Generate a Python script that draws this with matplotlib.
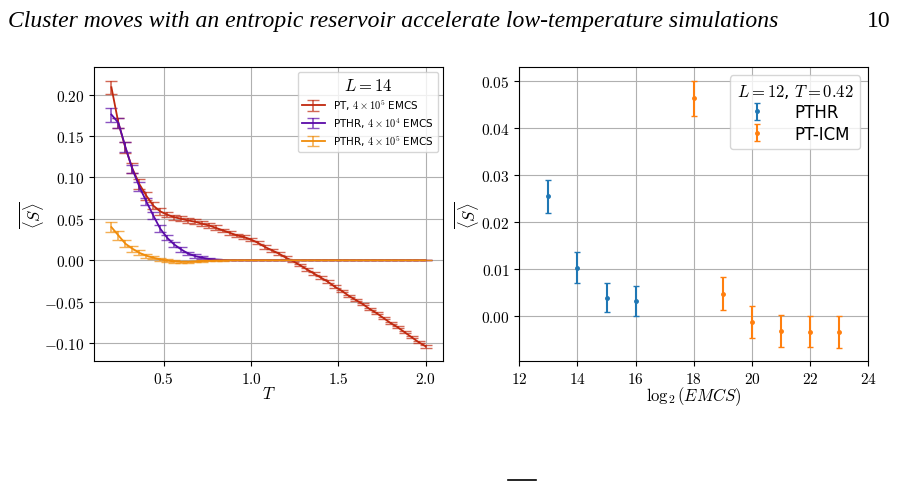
import matplotlib
matplotlib.use("Agg")
import matplotlib.pyplot as plt
from matplotlib.lines import Line2D
from matplotlib.ticker import FuncFormatter, MultipleLocator

plt.rcParams['mathtext.fontset'] = 'cm'
plt.rcParams['font.family'] = 'DejaVu Sans'

# left panel: L = 14
T = [0.20, 0.24, 0.28, 0.32, 0.36, 0.40, 0.44, 0.48, 0.52, 0.56,
     0.60, 0.64, 0.68, 0.72, 0.76, 0.80, 0.84, 0.88, 0.92, 0.96,
     1.00, 1.04, 1.08, 1.12, 1.16, 1.20, 1.24, 1.28, 1.32, 1.36,
     1.40, 1.44, 1.48, 1.52, 1.56, 1.60, 1.64, 1.68, 1.72, 1.76,
     1.80, 1.84, 1.88, 1.92, 1.96, 2.00]

pt_S = [0.209, 0.166, 0.136, 0.111, 0.092, 0.078, 0.066, 0.059, 0.055, 0.052,
        0.050, 0.048, 0.0465, 0.044, 0.042, 0.039, 0.036, 0.033, 0.030, 0.028,
        0.025, 0.021, 0.016, 0.012, 0.008, 0.003, -0.001, -0.006, -0.011, -0.016,
        -0.021, -0.026, -0.032, -0.037, -0.043, -0.048, -0.053, -0.059, -0.064, -0.070,
        -0.076, -0.081, -0.087, -0.093, -0.099, -0.104]
pt_err = [0.008, 0.006, 0.007, 0.006, 0.006, 0.005, 0.004, 0.004, 0.003, 0.003,
          0.003, 0.003, 0.003, 0.003, 0.003, 0.003, 0.002, 0.002, 0.002, 0.002,
          0.002, 0.002, 0.002, 0.002, 0.002, 0.002, 0.0015, 0.0015, 0.0015, 0.0015,
          0.0015, 0.0015, 0.0015, 0.0015, 0.0015, 0.0015, 0.0015, 0.0015, 0.0015, 0.0015,
          0.0015, 0.0015, 0.0015, 0.0015, 0.0015, 0.0015]

hr4_S = [0.176, 0.166, 0.137, 0.110, 0.089, 0.071, 0.054, 0.038, 0.027, 0.019,
         0.013, 0.008, 0.005, 0.003, 0.0015, 0.0008, 0.0003, 0.0001, 0.0, 0.0,
         0.0, 0.0, 0.0, 0.0, 0.0, 0.0, 0.0, 0.0, 0.0, 0.0,
         0.0, 0.0, 0.0, 0.0, 0.0, 0.0, 0.0, 0.0, 0.0, 0.0,
         0.0, 0.0, 0.0, 0.0, 0.0, 0.0]
hr4_err = [0.0085, 0.006, 0.006, 0.005, 0.005, 0.004, 0.004, 0.004, 0.003, 0.003,
           0.0025, 0.002, 0.002, 0.0015, 0.001, 0.0008, 0.0004, 0.0003, 0.0002, 0.0002,
           0.0002, 0.0002, 0.0002, 0.0002, 0.0002, 0.0002, 0.0002, 0.0002, 0.0002, 0.0002,
           0.0002, 0.0002, 0.0002, 0.0002, 0.0002, 0.0002, 0.0002, 0.0002, 0.0002, 0.0002,
           0.0002, 0.0002, 0.0002, 0.0002, 0.0002, 0.0002]

hr5_S = [0.040, 0.030, 0.020, 0.014, 0.009, 0.0055, 0.003, 0.001, -0.0005, -0.0015,
         -0.002, -0.002, -0.0015, -0.001, -0.0006, -0.0003, -0.0001, 0.0, 0.0, 0.0,
         0.0, 0.0, 0.0, 0.0, 0.0, 0.0, 0.0, 0.0, 0.0, 0.0,
         0.0, 0.0, 0.0, 0.0, 0.0, 0.0, 0.0, 0.0, 0.0, 0.0,
         0.0, 0.0, 0.0, 0.0, 0.0, 0.0]
hr5_err = [0.0065, 0.0055, 0.004, 0.0035, 0.003, 0.0025, 0.002, 0.0018, 0.0015, 0.0013,
           0.0012, 0.001, 0.0009, 0.0007, 0.0005, 0.0004, 0.0003, 0.0002, 0.0002, 0.0002,
           0.0002, 0.0002, 0.0002, 0.0002, 0.0002, 0.0002, 0.0002, 0.0002, 0.0002, 0.0002,
           0.0002, 0.0002, 0.0002, 0.0002, 0.0002, 0.0002, 0.0002, 0.0002, 0.0002, 0.0002,
           0.0002, 0.0002, 0.0002, 0.0002, 0.0002, 0.0002]

# right panel: L = 12, T = 0.42
log_emcs_hr = [13, 14, 15, 16]
S_hr = [0.0255, 0.0103, 0.0039, 0.0032]
err_hr = [0.0035, 0.0033, 0.0031, 0.0032]

log_emcs_icm = [18, 19, 20, 21, 22, 23]
S_icm = [0.0464, 0.0048, -0.0013, -0.0031, -0.0033, -0.0034]
err_icm = [0.0037, 0.0035, 0.0034, 0.0034, 0.0033, 0.0034]

fig = plt.figure(figsize=(9, 4.85), dpi=100)
ax1 = fig.add_axes([0.1044, 0.2536, 0.3878, 0.6062])
ax2 = fig.add_axes([0.577, 0.2536, 0.3878, 0.6062])

series = [
    (pt_S, pt_err, '#c0280e', r'PT, $4\times10^5$ EMCS'),
    (hr4_S, hr4_err, '#5a0aa8', r'PTHR, $4\times10^4$ EMCS'),
    (hr5_S, hr5_err, '#f08c0a', r'PTHR, $4\times10^5$ EMCS'),
]
for s, e, c, lab in series:
    cont = ax1.errorbar(T, s, yerr=e, color=c, lw=1.3, elinewidth=1.2,
                        capsize=4, label=lab)
    for cl in cont[1]:
        cl.set_alpha(0.7)
    for bl in cont[2]:
        bl.set_alpha(0.7)

ax1.set_xlim(0.1, 2.1)
ax1.set_ylim(-0.1218, 0.2335)
ax1.xaxis.set_major_locator(MultipleLocator(0.5))
ax1.yaxis.set_major_locator(MultipleLocator(0.05))
ax1.xaxis.set_major_formatter(FuncFormatter(lambda v, p: f'${v:.1f}$'))
ax1.yaxis.set_major_formatter(FuncFormatter(lambda v, p: f'${v:.2f}$'))
ax1.grid(True)
ax1.set_xlabel(r'$T$', fontsize=12, labelpad=-1)
ax1.set_ylabel(r'$\overline{\langle S\rangle}$', fontsize=12, labelpad=-1.5)
ax1.legend(loc='upper right', fontsize=7.5, title=r'$L=14$',
           title_fontsize=12, handlelength=2.2, labelspacing=0.3)

ax2.errorbar(log_emcs_hr, S_hr, yerr=err_hr, fmt='.', color='#1f77b4',
             markersize=5, elinewidth=1.5, capsize=2.5, label='PTHR')
ax2.errorbar(log_emcs_icm, S_icm, yerr=err_icm, fmt='.', color='#ff7f0e',
             markersize=5, elinewidth=1.5, capsize=2.5, label='PT-ICM')
ax2.set_xlim(12, 24)
ax2.set_ylim(-0.00955, 0.05306)
ax2.xaxis.set_major_locator(MultipleLocator(2))
ax2.yaxis.set_major_locator(MultipleLocator(0.01))
ax2.xaxis.set_major_formatter(FuncFormatter(lambda v, p: f'${v:.0f}$'))
ax2.yaxis.set_major_formatter(FuncFormatter(lambda v, p: f'${v:.2f}$'))
ax2.grid(True)
ax2.set_xlabel(r'$\log_2(EMCS)$', fontsize=12, labelpad=-1)
ax2.set_ylabel(r'$\overline{\langle S\rangle}$', fontsize=12, labelpad=0)
ax2.legend(loc='upper right', fontsize=12, title=r'$L=12$, $T=0.42$',
           title_fontsize=12, labelspacing=0.2, handletextpad=1.2)

for ax in (ax1, ax2):
    ax.tick_params(labelsize=11)

fig.text(0.009, 0.978, 'Cluster moves with an entropic reservoir accelerate '
         'low-temperature simulations', family='Liberation Serif',
         style='italic', fontsize=17, va='top', ha='left')
fig.text(0.989, 0.978, '10', family='Liberation Serif', fontsize=17,
         va='top', ha='right')
# overline of the cut-off caption symbol at the page bottom
fig.add_artist(Line2D([0.564, 0.595], [0.008, 0.008], color='black', lw=1.2,
                      transform=fig.transFigure))

fig.savefig('out.png', dpi=100)
